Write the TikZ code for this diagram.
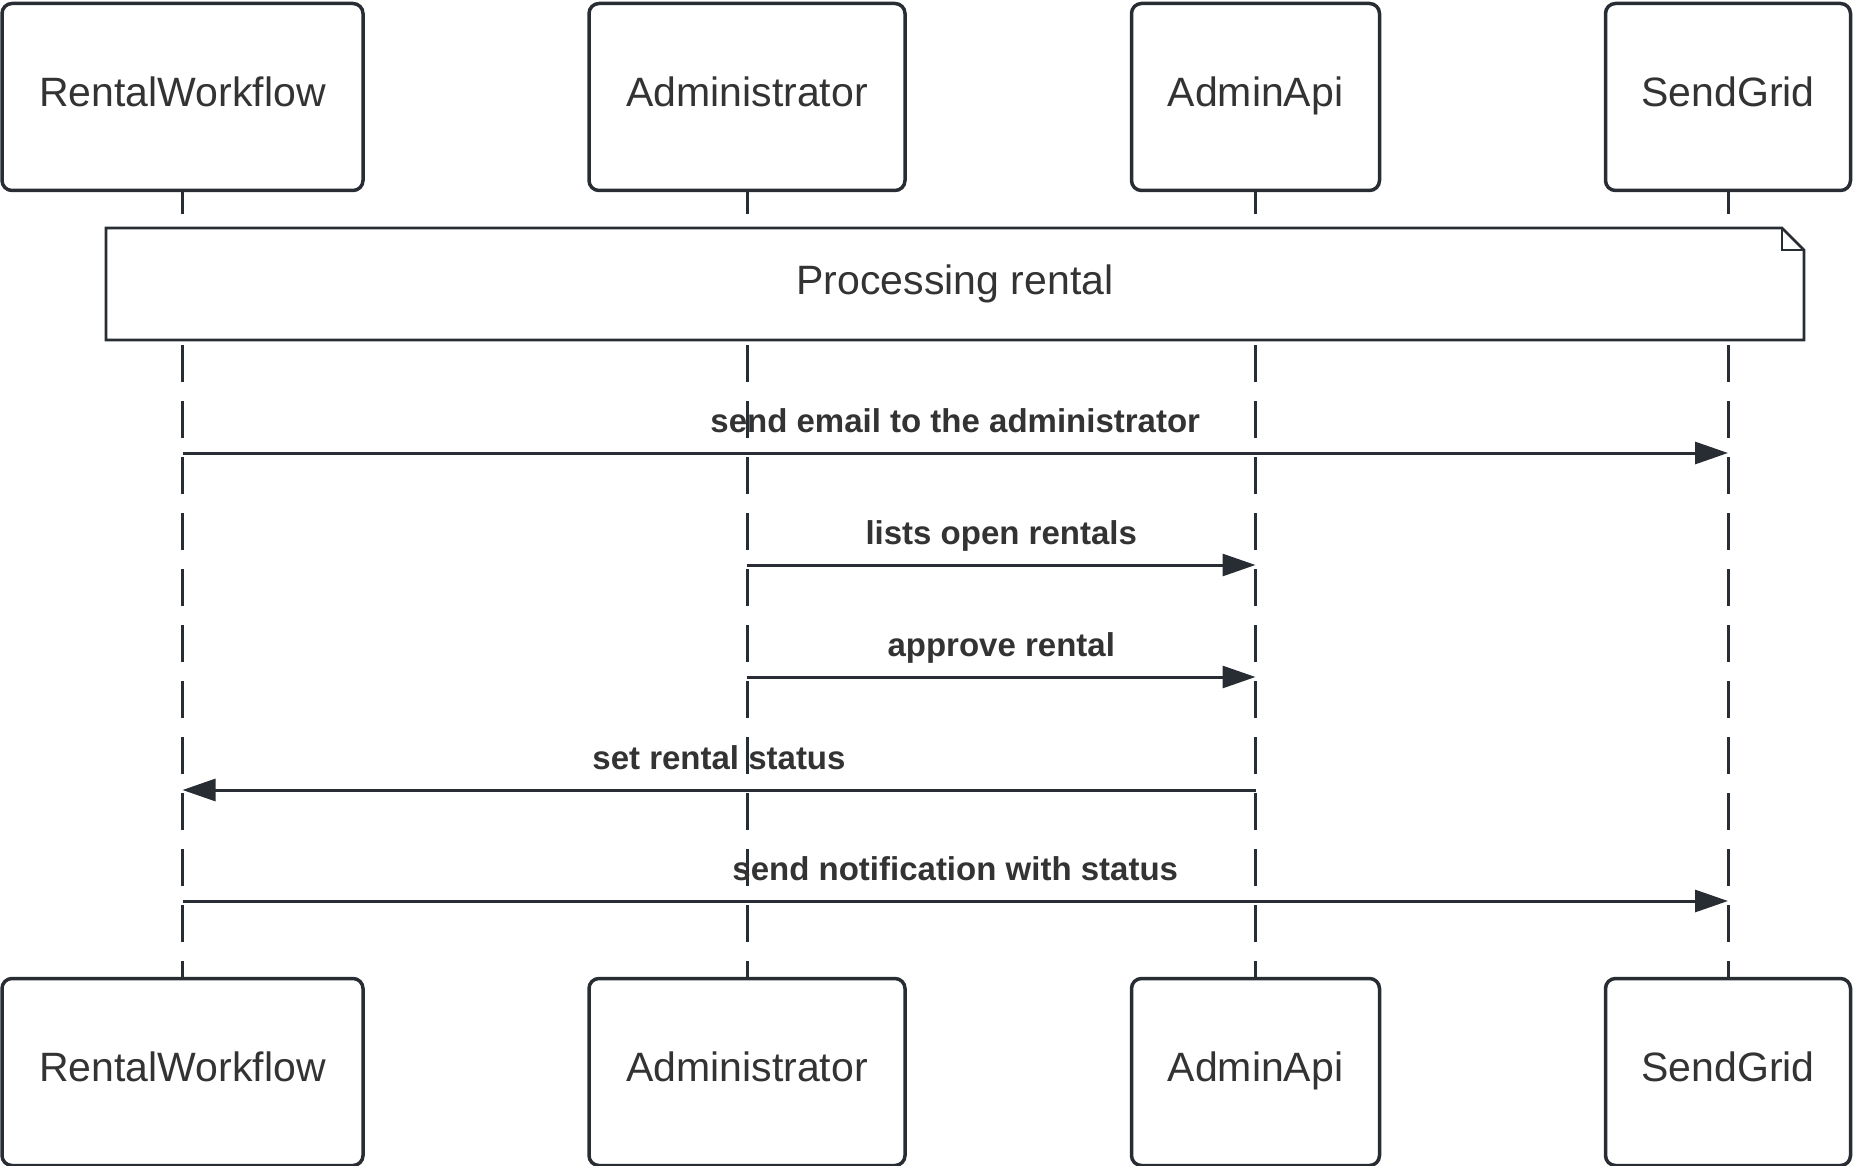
\documentclass[tikz,border=0pt]{standalone}
\usepackage{fontspec}
\setmainfont{Liberation Sans}
\usetikzlibrary{arrows.meta}
\definecolor{ink}{RGB}{40,44,51}
\definecolor{txt}{RGB}{51,51,51}
\tikzset{
  actor/.style={draw=ink, line width=1.75pt, rounded corners=5pt, minimum height=93.5pt,
    text=txt, text height=10.5pt, text depth=0.9pt, font=\fontsize{20.5}{24}\selectfont},
  life/.style={draw=ink, line width=1.5pt, dash pattern=on 18.5pt off 9.5pt, dash phase=7.5pt},
  msg/.style={draw=ink, line width=1.5pt, -{Triangle[length=16.5pt,width=11pt]}},
  msglabel/.style={above, inner sep=0pt, text depth=0pt, yshift=9.5pt, text=txt,
    font=\fontsize{16.5}{20}\selectfont\bfseries}
}
\begin{document}
\begin{tikzpicture}[x=0.5pt,y=-0.5pt]
\useasboundingbox (0,0) rectangle (1854,1166);
% actors, top and bottom
\node[actor, minimum width=180.5pt] (rw) at (182.5,97) {RentalWorkflow};
\node[actor, minimum width=158pt] (ad) at (747,97) {Administrator};
\node[actor, minimum width=124pt] (api) at (1255.5,97) {AdminApi};
\node[actor, minimum width=122.5pt] (sg) at (1728,97) {SendGrid};
\node[actor, minimum width=180.5pt] (rwb) at (182.5,1072) {RentalWorkflow};
\node[actor, minimum width=158pt] (adb) at (747,1072) {Administrator};
\node[actor, minimum width=124pt] (apib) at (1255.5,1072) {AdminApi};
\node[actor, minimum width=122.5pt] (sgb) at (1728,1072) {SendGrid};
% lifelines
\foreach \a in {rw,ad,api,sg}
  \draw[life] (\a.south) -- (\a b.north);
% note
\filldraw[fill=white, draw=ink, line width=1.4pt]
  (106,228) -- (1782,228) -- (1804,250) -- (1804,340) -- (106,340) -- cycle;
\draw[ink, line width=1.4pt] (1782,228) -- (1782,250) -- (1804,250);
\node[text=txt, font=\fontsize{20.5}{24}\selectfont] (note) at (955,284) {Processing rental};
% messages
\draw[msg] (rw |- 0,453) -- node[msglabel]{send email to the administrator} (sg |- 0,453);
\draw[msg] (ad |- 0,565) -- node[msglabel]{lists open rentals} (api |- 0,565);
\draw[msg] (ad |- 0,677) -- node[msglabel]{approve rental} (api |- 0,677);
\draw[msg] (api |- 0,790) -- node[msglabel]{set rental status} (rw |- 0,790);
\draw[msg] (rw |- 0,901) -- node[msglabel]{send notification with status} (sg |- 0,901);
\end{tikzpicture}
\end{document}
